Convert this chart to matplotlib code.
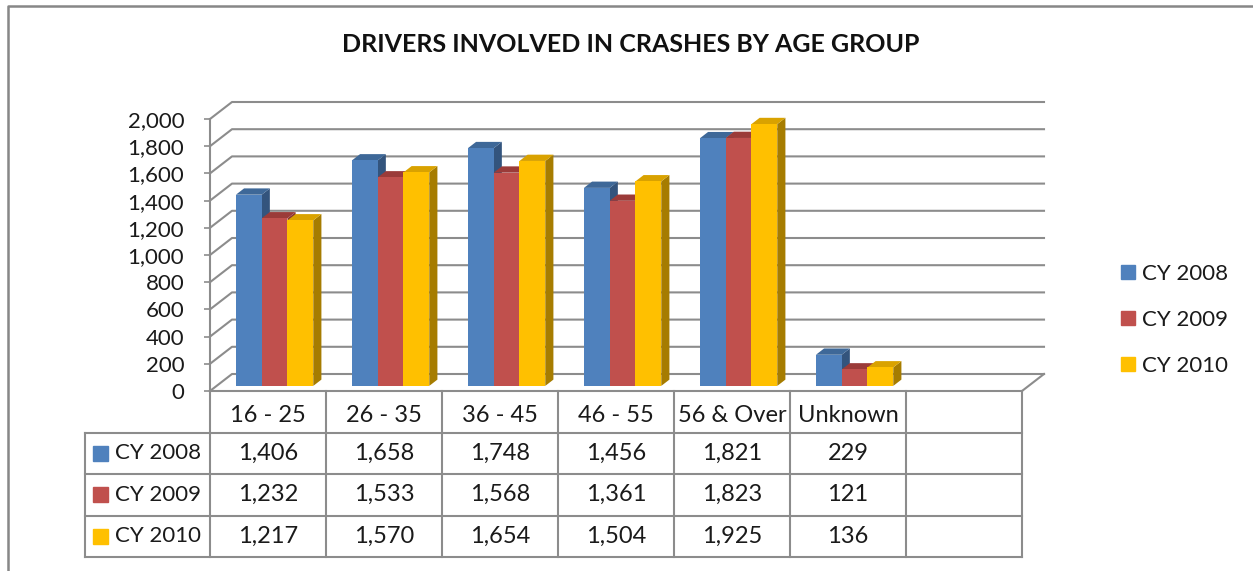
import numpy as np
import matplotlib.pyplot as plt
from matplotlib.patches import Polygon, Rectangle
from matplotlib.lines import Line2D

plt.rcParams['font.family'] = ['Lato', 'DejaVu Sans']

# data
categories = ['16 - 25', '26 - 35', '36 - 45', '46 - 55', '56 & Over', 'Unknown']
series_names = ['CY 2008', 'CY 2009', 'CY 2010']
cy2008 = [1406, 1658, 1748, 1456, 1821, 229]
cy2009 = [1232, 1533, 1568, 1361, 1823, 121]
cy2010 = [1217, 1570, 1654, 1504, 1925, 136]
series = [cy2008, cy2009, cy2010]
title = 'DRIVERS INVOLVED IN CRASHES BY AGE GROUP'

# colours: front, top, side
front_c = ['#4F81BD', '#C0504D', '#FFC000']
top_c = ['#3E6898', '#9B3B39', '#D9A200']
side_c = ['#33547D', '#8A3432', '#A67C00']
grid_c = '#8C8C8C'
txt_c = '#1A1A1A'

W, H = 1253, 571
fig = plt.figure(figsize=(W / 100, H / 100), dpi=100)


def fx(px):
    return px / W


def fy(py):
    return 1 - py / H


n_slots = len(categories) + 1   # excel leaves one empty column at the end
ymax = 2000
ax = fig.add_axes([fx(210), fy(391), (1022 - 210) / W, (391 - 119) / H])
ax.patch.set_visible(False)

# pixel -> data units for the fake 3d depth
ux = n_slots / 812
uy = ymax / 272
back_dx, back_dy = 22 * ux, 17 * uy
f0, fd = 0.3, 0.37   # bar plane position and bar depth (fraction of wall depth)

# back wall + side wall gridlines
ticks = np.arange(0, ymax + 1, 200)
for v in ticks:
    ax.plot([0, back_dx, n_slots + back_dx], [v, v + back_dy, v + back_dy],
            color=grid_c, lw=1.5, clip_on=False, zorder=1)
# floor right edge
ax.plot([n_slots, n_slots + back_dx], [0, back_dy], color=grid_c, lw=1.5,
        clip_on=False, zorder=1)

bw = 1 / 4.5
ddx, ddy = fd * back_dx, fd * back_dy
y0 = f0 * back_dy
for s, vals in enumerate(series):
    xs = np.arange(len(categories)) + 0.75 * bw + s * bw + f0 * back_dx
    bars = ax.bar(xs, vals, width=bw, bottom=y0, align='edge', color=front_c[s],
                  linewidth=0)
    for i, (p, v, x0) in enumerate(zip(bars, vals, xs)):
        z = 3 + (i * 3 + s) * 3
        p.set_zorder(z + 2)
        side = Polygon([(x0 + bw, y0), (x0 + bw + ddx, y0 + ddy),
                        (x0 + bw + ddx, y0 + v + ddy), (x0 + bw, y0 + v)],
                       closed=True, facecolor=side_c[s], lw=0, clip_on=False, zorder=z)
        top = Polygon([(x0, y0 + v), (x0 + ddx, y0 + v + ddy),
                       (x0 + bw + ddx, y0 + v + ddy), (x0 + bw, y0 + v)],
                      closed=True, facecolor=top_c[s], lw=0, clip_on=False, zorder=z + 1)
        ax.add_patch(side)
        ax.add_patch(top)

ax.set_xlim(0, n_slots)
ax.set_ylim(0, ymax)
ax.set_xticks([])
ax.set_yticks(ticks)
ax.yaxis.set_major_formatter(lambda v, p: f'{v:,.0f}')
ax.tick_params(axis='y', length=4.5, width=1.2, color=grid_c, pad=14,
               labelsize=16, labelcolor=txt_c)
for side_name in ['top', 'right']:
    ax.spines[side_name].set_visible(False)
for side_name in ['left', 'bottom']:
    ax.spines[side_name].set_color(grid_c)
    ax.spines[side_name].set_linewidth(1.5)

# data table below the chart
lab_w = 125 / 116
tab = fig.add_axes([fx(85), fy(557), (1022 - 85) / W, (557 - 391) / H])
tab.set_xlim(-lab_w, n_slots)
tab.set_ylim(4, 0)
tab.axis('off')
lk = dict(color=grid_c, lw=1.5, clip_on=False)
for k in range(n_slots + 1):
    tab.plot([k, k], [0, 4], **lk)
tab.plot([-lab_w, -lab_w], [1, 4], **lk)
for r in range(1, 5):
    tab.plot([-lab_w, n_slots], [r, r], **lk)

for i, c in enumerate(categories):
    tab.text(i + 0.5, 0.58, c, ha='center', va='center', fontsize=17, color=txt_c)
for s, vals in enumerate(series):
    for i, v in enumerate(vals):
        tab.text(i + 0.5, s + 1.5, f'{v:,}', ha='center', va='center',
                 fontsize=17, color=txt_c)
    kw, kh = 15 / 116, 15 / 41.5
    tab.add_patch(Rectangle((-1.009, s + 1.5 - kh / 2), kw, kh, color=front_c[s],
                            clip_on=False))
    tab.text(-0.82, s + 1.5, series_names[s], ha='left', va='center',
             fontsize=16, color=txt_c)

# legend
handles = [Rectangle((0, 0), 1, 1, color=c) for c in front_c]
fig.legend(handles, series_names, loc='center left',
           bbox_to_anchor=(fx(1121), fy(320)), frameon=False, fontsize=16,
           handlelength=0.63, handleheight=0.63, handletextpad=0.33,
           labelspacing=1.17, borderaxespad=0, borderpad=0, labelcolor=txt_c)

fig.text(fx(631), fy(45), title, ha='center', va='center', fontsize=18,
         fontweight='bold', color='#111111')

# chart area border (cut off at right and bottom)
fig.add_artist(Line2D([fx(8), fx(8), 1.0], [0, fy(6), fy(6)], color='#878787', lw=1.8))

fig.savefig('out.png', dpi=100)
